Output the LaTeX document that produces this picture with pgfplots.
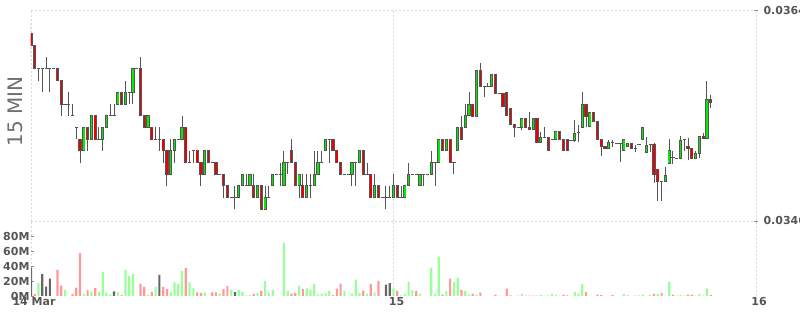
\documentclass[border=0pt]{standalone}
\usepackage{fontspec}
\setmainfont{DejaVu Sans}
\usepackage{pgfplots}
\usepackage{pgfplotstable}
\pgfplotsset{compat=1.18}
\definecolor{cdark}{HTML}{555555}
\definecolor{cgreen}{HTML}{00EE00}
\definecolor{cred}{HTML}{EE0000}
\definecolor{vgreen}{HTML}{99FF99}
\definecolor{vred}{HTML}{FF9999}
\definecolor{vgrey}{HTML}{666666}
\definecolor{gridc}{HTML}{D9D9D9}
\definecolor{labc}{HTML}{555555}
\definecolor{titc}{HTML}{707070}

% rising candles
\pgfplotstableread{
n O H L C
14 0.0352 0.0354 0.0352 0.0354
16 0.0353 0.0355 0.0353 0.0355
19 0.0353 0.0354 0.0352 0.0354
20 0.0354 0.0355 0.0354 0.0355
23 0.0356 0.0357 0.0356 0.0357
25 0.0356 0.0358 0.0356 0.0357
27 0.0357 0.0359 0.0356 0.0359
31 0.0354 0.0355 0.0354 0.0355
37 0.0350 0.0353 0.0350 0.0352
38 0.0352 0.0353 0.0351 0.0353
40 0.0353 0.0355 0.0353 0.0354
46 0.0350 0.0352 0.0350 0.0352
55 0.0348 0.0349 0.0348 0.0349
56 0.0349 0.0350 0.0349 0.0350
58 0.0349 0.0350 0.0349 0.0350
60 0.0348 0.0349 0.0348 0.0349
62 0.0347 0.0349 0.0347 0.0348
64 0.0349 0.0350 0.0349 0.0350
67 0.0349 0.0352 0.0349 0.0351
71 0.0349 0.0350 0.0348 0.0350
73 0.0348 0.0350 0.0348 0.0349
75 0.0349 0.0352 0.0349 0.0350
76 0.0350 0.0352 0.0350 0.0351
78 0.0352 0.0353 0.0352 0.0353
85 0.0350 0.0351 0.0349 0.0351
87 0.0351 0.0352 0.0351 0.0352
91 0.0348 0.0350 0.0348 0.0349
96 0.0348 0.0350 0.0348 0.0349
99 0.0348 0.0349 0.0348 0.0349
100 0.0349 0.0351 0.0349 0.0350
103 0.0349 0.0350 0.0349 0.0350
106 0.0350 0.0352 0.0350 0.0351
108 0.0351 0.0353 0.0351 0.0353
110 0.0352 0.0353 0.0352 0.0353
113 0.0352 0.0354 0.0352 0.0354
115 0.0354 0.0356 0.0354 0.0355
116 0.0355 0.0357 0.0355 0.0356
118 0.035494 0.035891 0.035494 0.035891
122 0.03575 0.035855 0.03575 0.035855
130 0.0354 0.035478 0.03538 0.035478
133 0.03538 0.035478 0.03538 0.035478
135 0.035267 0.035364 0.035267 0.035316
139 0.0353 0.035367 0.0353 0.035367
144 0.035287 0.035461 0.035275 0.03535
146 0.0354 0.0357 0.0354 0.0356
148 0.035406 0.03553 0.035406 0.03553
153 0.035222 0.035293 0.035222 0.035273
157 0.0352 0.0353 0.0352 0.0353
158 0.035235 0.035264 0.035235 0.035264
162 0.035301 0.035401 0.035301 0.035401
163 0.035187 0.035318 0.035187 0.035247
168 0.034942 0.035064 0.034942 0.034991
169 0.035093 0.035299 0.035093 0.0352
172 0.035136 0.035327 0.035136 0.03529
176 0.035136 0.035199 0.035136 0.035175
177 0.035175 0.035324 0.035139 0.035324
179 0.035307 0.035795 0.035307 0.035635
}\tgreen

% falling candles
\pgfplotstableread{
n O H L C
0 0.0362 0.03631 0.0360 0.0361
1 0.0361 0.0361 0.0359 0.0359
7 0.0359 0.0359 0.0358 0.0358
8 0.0358 0.0358 0.0355 0.0356
13 0.0353 0.0353 0.0351 0.0352
15 0.0354 0.0354 0.0352 0.0353
17 0.0355 0.0355 0.0353 0.0353
24 0.0357 0.0357 0.0356 0.0356
29 0.0359 0.0360 0.0355 0.0355
30 0.0355 0.0355 0.0354 0.0354
32 0.0354 0.0354 0.0353 0.0353
35 0.0353 0.0353 0.0351 0.0352
36 0.0352 0.0352 0.0349 0.0350
41 0.0354 0.0354 0.0351 0.0351
44 0.0352 0.0352 0.0351 0.0351
45 0.0351 0.0351 0.0349 0.0350
47 0.0352 0.0352 0.0351 0.0351
49 0.0351 0.0351 0.0350 0.0350
51 0.0350 0.0350 0.0348 0.0349
52 0.0349 0.0349 0.0348 0.0348
59 0.0349 0.0350 0.0348 0.0348
61 0.0349 0.0349 0.0347 0.0347
69 0.0352 0.0353 0.0351 0.0351
70 0.0351 0.0351 0.0349 0.0349
72 0.0349 0.0350 0.0348 0.0348
80 0.0353 0.0353 0.0352 0.0352
81 0.0352 0.0352 0.0351 0.0351
82 0.0351 0.0351 0.0350 0.0350
88 0.0352 0.0352 0.0350 0.0350
90 0.0350 0.0350 0.0348 0.0348
92 0.0349 0.0349 0.0348 0.0348
97 0.0349 0.0349 0.0348 0.0348
109 0.0353 0.0353 0.0352 0.0352
111 0.0353 0.0353 0.0351 0.0351
114 0.0354 0.0355 0.0353 0.0353
117 0.0356 0.0356 0.035494 0.035494
119 0.035891 0.03595 0.03575 0.03575
123 0.035855 0.035855 0.035686 0.035686
125 0.035686 0.035686 0.035577 0.035577
126 0.0357 0.0357 0.0355 0.0355
127 0.035564 0.035564 0.035427 0.035427
128 0.035427 0.035427 0.035321 0.0354
131 0.035478 0.035478 0.0354 0.0354
132 0.0354 0.035535 0.03538 0.03538
134 0.035478 0.035478 0.035267 0.035267
137 0.035316 0.035316 0.0352 0.0352
140 0.035367 0.035367 0.0353 0.0353
141 0.0353 0.0353 0.0352 0.0352
142 0.0353 0.0353 0.0352 0.0352
147 0.0356 0.0356 0.0354 0.035492
149 0.03553 0.03553 0.035455 0.035455
150 0.035455 0.035455 0.0353 0.0353
151 0.0353 0.0353 0.035158 0.035235
152 0.035235 0.035235 0.035222 0.035222
159 0.035264 0.035264 0.035222 0.035222
165 0.035256 0.03527 0.034927 0.034999
166 0.035042 0.035042 0.034773 0.034942
174 0.035239 0.03531 0.035124 0.035222
175 0.035222 0.035222 0.035136 0.035136
178 0.035324 0.035352 0.035307 0.035307
180 0.035635 0.035677 0.035564 0.035615
}\tred

% unchanged candles
\pgfplotstableread{
n P H L
2 0.0359 0.0359 0.0358
3 0.0359 0.0359 0.0357
4 0.0359 0.0360 0.0359
5 0.0359 0.0359 0.0357
6 0.0359 0.0359 0.0359
9 0.0356 0.0356 0.0356
10 0.0356 0.0357 0.0355
11 0.0355 0.0356 0.0355
12 0.0354 0.0354 0.0353
18 0.0353 0.0354 0.0353
21 0.0355 0.0356 0.0355
22 0.0355 0.0356 0.0355
26 0.0357 0.0357 0.0356
28 0.0359 0.0359 0.0359
33 0.0353 0.0354 0.0353
34 0.0353 0.0354 0.0352
39 0.0353 0.0353 0.0353
42 0.0351 0.0352 0.0351
43 0.0352 0.0352 0.0351
48 0.0351 0.0351 0.0351
50 0.0350 0.0350 0.0350
53 0.0348 0.0348 0.0348
54 0.0348 0.0349 0.0347
57 0.0349 0.0350 0.0349
63 0.0348 0.0349 0.0348
65 0.0350 0.0350 0.0350
66 0.0350 0.0351 0.0349
68 0.0351 0.0351 0.0350
74 0.0349 0.0350 0.0348
77 0.0351 0.0352 0.0351
79 0.0353 0.0353 0.0351
83 0.0350 0.0350 0.0350
84 0.0350 0.0350 0.0350
86 0.0351 0.0351 0.0349
89 0.0350 0.0351 0.0350
93 0.0348 0.0348 0.0348
94 0.0348 0.0349 0.0347
95 0.0348 0.0349 0.0348
98 0.0348 0.0349 0.0348
101 0.0350 0.0350 0.0350
102 0.0350 0.0350 0.0350
104 0.0350 0.0350 0.0349
105 0.0350 0.0350 0.0350
107 0.0351 0.0351 0.0349
112 0.0351 0.0351 0.0350
120 0.03575 0.03575 0.03566
121 0.03575 0.03578 0.03575
124 0.035686 0.035686 0.035686
129 0.0354 0.0354 0.0354
136 0.035316 0.035404 0.035316
138 0.0353 0.0353 0.0353
143 0.03529 0.03529 0.03529
145 0.035358 0.035421 0.035276
154 0.035273 0.035293 0.035233
155 0.035264 0.035264 0.035264
156 0.035264 0.035264 0.035107
160 0.035222 0.03525 0.035193
161 0.03525 0.03525 0.03525
164 0.035256 0.035256 0.035193
167 0.034942 0.034942 0.034773
170 0.035141 0.035196 0.035087
171 0.035136 0.035136 0.035136
173 0.035299 0.035299 0.035196
}\tdoji

% volumes (millions)
\pgfplotstableread{
n v
2 17.3
9 8
14 2.7
16 5.8
18 5.8
19 32
20 4
21 1.8
23 5.3
25 34.7
26 26.7
27 29.3
31 1.8
33 12
37 4.9
38 18.2
39 16
40 33.3
42 18.2
43 10.7
46 4.9
50 3.6
53 8
55 8
56 5.3
58 1.3
60 4
62 20
63 4
64 8
65 0.3
67 70.7
68 6.7
71 13.8
73 9.8
74 8
75 16
76 1.8
77 3.1
78 4
79 7.1
83 6.7
85 3.6
86 21.8
87 4
89 3.1
91 4.9
93 0.3
96 10.2
98 0.9
99 2.7
100 18.7
101 8
103 2.7
105 0.3
106 37.8
107 2.7
108 52.4
110 6.7
112 18.7
113 24.4
115 6.7
116 1.8
118 1.8
120 0.3
121 0.3
130 2.7
135 1.8
136 0.4
138 2.7
139 1.3
140 0.4
144 5.3
145 3.1
146 16
148 0.4
157 2.7
162 1.8
164 1.8
166 2.7
168 0.4
169 18.7
171 0.4
172 1.3
173 0.4
176 0.4
177 2.7
179 9.8
}\vgreentab

\pgfplotstableread{
n v
1 2.7
7 34.7
8 13.8
11 2.7
12 11.1
13 57.3
15 8
17 10.7
24 1.3
29 16
30 12
32 5.3
35 12
36 9.3
41 37.3
44 4.9
45 4
48 4.9
49 4.9
51 9.3
52 13.3
57 0.4
59 2.7
61 6.7
69 3.1
70 4
72 9.3
80 1.3
81 9.8
82 16.4
88 7.1
90 16
92 20
97 6.7
102 6.7
109 1.8
111 23.1
114 8
117 2.7
119 4.4
122 0.3
123 1.8
124 0.3
125 0.3
126 9.8
127 0.9
129 0.4
131 0.4
132 0.4
133 0.4
134 0.4
137 0.4
141 1.8
142 0.9
147 5.3
150 1.8
151 1.3
154 1.3
158 0.9
160 0.4
161 0.4
165 2.7
167 4
170 1.8
174 1.8
175 1.8
178 0.4
180 1.3
}\vredtab

\pgfplotstableread{
n v
0 37.8
3 29.3
4 12.4
5 23.1
22 6.2
34 28
54 5.3
94 15.1
95 17.3
}\vgreytab

\pgfplotsset{
  candlebar/.style={only marks, mark=*, mark size=0pt,
    mark options={draw=none, fill=none}, forget plot,
    error bars/.cd, y dir=plus, y explicit, error mark=none,
    error bar style={#1}},
}

\begin{document}
\begin{tikzpicture}
\begin{axis}[
  at={(31pt,94pt)}, anchor=south west, scale only axis,
  width=725pt, height=210.5pt,
  xmin=0, xmax=192, ymin=0.0346, ymax=0.0364,
  scaled y ticks=false,
  xtick={0,96,192}, xticklabels={}, xtick style={draw=none},
  ytick={0.0346,0.0364}, yticklabels={0.0346,0.0364},
  ytick pos=right, yticklabel pos=right,
  yticklabel style={anchor=west, font=\fontsize{11}{13}\selectfont\bfseries, text=labc, xshift=2pt},
  major tick length=4pt, tick align=center,
  ytick style={draw=black!45, line width=0.8pt},
  xmajorgrids, ymajorgrids,
  grid style={gridc, line width=0.8pt, dash pattern=on 2pt off 2pt},
  axis line style={draw=none},
  ylabel={15 MIN},
  ylabel style={at={(axis description cs:-0.0214,0.52)}, anchor=center, font=\fontsize{20}{24}\selectfont, text=titc},
]
% wicks
\addplot[candlebar={line width=1pt, draw=cdark}]
  table[x=n, y=L, y error plus expr=\thisrow{H}-\thisrow{L}] {\tgreen};
\addplot[candlebar={line width=1pt, draw=cdark}]
  table[x=n, y=L, y error plus expr=\thisrow{H}-\thisrow{L}] {\tred};
\addplot[candlebar={line width=1pt, draw=cdark}]
  table[x=n, y=L, y error plus expr=\thisrow{H}-\thisrow{L}] {\tdoji};
% body outlines
\addplot[candlebar={line width=3.2pt, draw=cdark, shorten <=-0.5pt, shorten >=-0.5pt}]
  table[x=n, y=O, y error plus expr=\thisrow{C}-\thisrow{O}] {\tgreen};
\addplot[candlebar={line width=3.2pt, draw=cdark, shorten <=-0.5pt, shorten >=-0.5pt}]
  table[x=n, y=C, y error plus expr=\thisrow{O}-\thisrow{C}] {\tred};
% body fills
\addplot[candlebar={line width=1.4pt, draw=cgreen, shorten <=0.5pt, shorten >=0.5pt}]
  table[x=n, y=O, y error plus expr=\thisrow{C}-\thisrow{O}] {\tgreen};
\addplot[candlebar={line width=1.4pt, draw=cred, shorten <=0.5pt, shorten >=0.5pt}]
  table[x=n, y=C, y error plus expr=\thisrow{O}-\thisrow{C}] {\tred};
% unchanged bodies
\addplot[only marks, mark=-, mark size=1.6pt, mark options={draw=cdark, line width=1pt}, forget plot]
  table[x=n, y=P] {\tdoji};
\end{axis}

\begin{axis}[
  at={(31pt,19pt)}, anchor=south west, scale only axis,
  width=725pt, height=75pt,
  xmin=0, xmax=192, ymin=0, ymax=100,
  xtick={0,96,192}, xticklabels={14 Mar,15,16},
  ytick={0,20,40,60,80}, yticklabels={0M,20M,40M,60M,80M},
  xtick pos=bottom, ytick pos=left,
  tick label style={font=\fontsize{11}{13}\selectfont\bfseries, text=labc},
  xticklabel style={xshift=3pt, yshift=2pt},
  yticklabel style={xshift=2pt},
  major tick length=3pt, tick align=inside,
  xtick style={draw=none},
  ytick style={draw=black!45, line width=0.8pt},
  xmajorgrids,
  grid style={gridc, line width=0.8pt, dash pattern=on 2pt off 2pt},
  axis line style={draw=none},
]
\addplot[ybar, bar width=2.2pt, bar shift=0pt, fill=vgreen, draw=none] table[x=n, y=v] {\vgreentab};
\addplot[ybar, bar width=2.2pt, bar shift=0pt, fill=vred, draw=none] table[x=n, y=v] {\vredtab};
\addplot[ybar, bar width=2.2pt, bar shift=0pt, fill=vgrey, draw=none] table[x=n, y=v] {\vgreytab};
\end{axis}
\pgfresetboundingbox
\useasboundingbox (0,0) rectangle (800pt,315pt);
\end{tikzpicture}
\end{document}
